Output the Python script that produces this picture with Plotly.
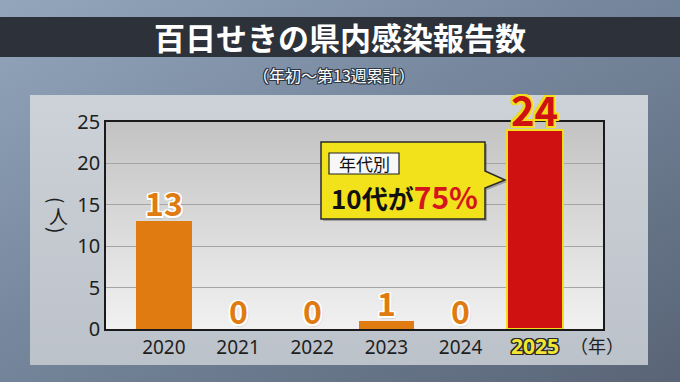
import base64
import plotly.graph_objects as go

# ---------------- data ----------------
years = ["2020", "2021", "2022", "2023", "2024", "2025"]
cases = [13, 0, 0, 1, 0, 24]
y_ticks = [0, 5, 10, 15, 20, 25]

title_text = "百日せきの県内感染報告数"
subtitle_text = "（年初～第13週累計）"
callout_head = "年代別"
callout_body = "10代が"
callout_pct = "75%"
y_unit = "人"
x_unit = "（年）"

# ---------------- styling ----------------
W_FIG, H_FIG = 680, 382
L, R, T, B = 106, 603, 122, 329          # plot area in pixels
PW, PH = R - L, B - T

ORANGE = "#e07b12"
RED = "#cf1111"
YELLOW = "#f4dd1c"
FONT_JP = "Noto Sans CJK JP"
FONT_NUM = "Noto Sans"


def pxx(x):
    return (x - L) / PW


def pxy(y):
    return (B - y) / PH


def outline(color, w=1.5, extra=""):
    offs = [(-w, -w), (w, -w), (-w, w), (w, w), (0, w), (0, -w), (w, 0), (-w, 0)]
    s = ", ".join(f"{a}px {b}px 0 {color}" for a, b in offs)
    return s + (", " + extra if extra else "")


def note(x, y, text, font, **kw):
    d = dict(x=pxx(x), y=pxy(y), xref="paper", yref="paper", text=text, showarrow=False,
             xanchor="center", yanchor="middle", font=font)
    d.update(kw)
    return d


# background gradients (decoration) as an SVG image
svg = f"""<svg xmlns='http://www.w3.org/2000/svg' width='{W_FIG}' height='{H_FIG}' viewBox='0 0 {W_FIG} {H_FIG}' preserveAspectRatio='none'>
<defs>
<linearGradient id='bg' x1='0' y1='0' x2='1' y2='1'>
<stop offset='0' stop-color='#93a6bc'/><stop offset='0.45' stop-color='#76879d'/><stop offset='1' stop-color='#596476'/></linearGradient>
<linearGradient id='pn' x1='0' y1='0' x2='0' y2='1'>
<stop offset='0' stop-color='#cdd2d8'/><stop offset='1' stop-color='#bcc2ca'/></linearGradient>
<linearGradient id='pl' x1='0' y1='0' x2='0' y2='1'>
<stop offset='0' stop-color='#c3c3c3'/><stop offset='1' stop-color='#f1f1f1'/></linearGradient>
</defs>
<rect width='{W_FIG}' height='{H_FIG}' fill='url(#bg)'/>
<rect x='30' y='95' width='618' height='270' fill='url(#pn)'/>
<rect x='{L}' y='{T}' width='{PW}' height='{PH}' fill='url(#pl)'/>
</svg>"""
svg_uri = "data:image/svg+xml;base64," + base64.b64encode(svg.encode()).decode()

n = len(years)
xi = list(range(n))
bar_colors = [RED if i == n - 1 else ORANGE for i in range(n)]
bar_line_colors = [YELLOW if i == n - 1 else ORANGE for i in range(n)]
bar_line_widths = [2 if i == n - 1 else 0 for i in range(n)]

fig = go.Figure()
fig.add_trace(go.Bar(
    x=xi, y=cases, width=0.75,
    marker=dict(color=bar_colors, line=dict(color=bar_line_colors, width=bar_line_widths)),
    hoverinfo="skip",
))

annotations = []
# value labels
for i, v in zip(xi, cases):
    if i == n - 1:
        annotations.append(dict(
            x=i, y=v, xref="x", yref="y", text=str(v), showarrow=False,
            xanchor="center", yanchor="middle", yshift=21,
            font=dict(family=FONT_JP, size=40, color=RED, weight="bold",
                      shadow=outline(YELLOW, 2)),
        ))
    else:
        annotations.append(dict(
            x=i, y=v, xref="x", yref="y", text=str(v), showarrow=False,
            xanchor="center", yanchor="middle", yshift=19,
            font=dict(family=FONT_JP, size=32, color=ORANGE, weight="bold",
                      shadow=outline("#ffffff", 1.5, "1px 2px 2px rgba(0,0,0,0.35)")),
        ))

# highlighted last x label
annotations.append(dict(
    x=xi[-1], y=0, xref="x", yref="paper", text=years[-1], showarrow=False,
    xanchor="center", yanchor="middle", yshift=-17,
    font=dict(family=FONT_NUM, size=21, color="#f3e532", weight="bold",
              shadow=outline("#2a2a2a", 1.2)),
))
# x unit
annotations.append(note(597, 345, x_unit, dict(family=FONT_JP, size=18, color="#1e1e1e")))
# y unit (vertical writing: rotated parentheses around the character)
yfont = dict(family=FONT_JP, size=19, color="#1e1e1e")
annotations += [
    note(58, 200, "(", yfont, textangle=90),
    note(58, 215, y_unit, yfont),
    note(58, 230, ")", yfont, textangle=90),
]
# title + subtitle
annotations.append(note(340, 37, title_text,
                        dict(family=FONT_JP, size=31, color="#ffffff", weight="bold")))
annotations.append(note(334, 75, subtitle_text,
                        dict(family=FONT_JP, size=16, color="#ffffff",
                             shadow=outline("#2f3644", 1))))
# callout texts
annotations.append(note(364, 163.5, callout_head,
                        dict(family=FONT_JP, size=17, color="#111111")))
annotations.append(note(329, 196,
                        f"{callout_body}<span style='color:#d4161c;font-size:30px'>{callout_pct}</span>",
                        dict(family=FONT_JP, size=26, color="#111111", weight="bold"),
                        xanchor="left"))

# shapes
cx0, cx1, cy0, cy1 = 321, 485, 142, 219
call_pts = [(cx0, cy0), (cx1, cy0), (cx1, 171), (505, 180), (cx1, 188), (cx1, cy1), (cx0, cy1)]


def path_of(pts, dx=0, dy=0):
    return "M " + " L ".join(f"{pxx(x + dx):.5f},{pxy(y + dy):.5f}" for x, y in pts) + " Z"


shapes = [
    dict(type="rect", xref="paper", yref="paper", x0=pxx(0), x1=pxx(W_FIG), y0=pxy(17), y1=pxy(57),
         fillcolor="#2d3139", line=dict(width=0), layer="below"),
    dict(type="path", xref="paper", yref="paper", path=path_of(call_pts, 2, 2),
         fillcolor="rgba(0,0,0,0.25)", line=dict(width=0)),
    dict(type="path", xref="paper", yref="paper", path=path_of(call_pts),
         fillcolor="#f2e21c", line=dict(color="#2a2a2a", width=1.5)),
    dict(type="rect", xref="paper", yref="paper", x0=pxx(329), x1=pxx(399), y0=pxy(174), y1=pxy(153),
         fillcolor="#f7f7f7", line=dict(color="#222222", width=1.2)),
]

fig.update_layout(
    width=W_FIG, height=H_FIG,
    margin=dict(l=L, r=W_FIG - R, t=T, b=H_FIG - B, pad=0, autoexpand=False),
    paper_bgcolor="#6f7f94", plot_bgcolor="rgba(0,0,0,0)",
    showlegend=False, bargap=0,
    annotations=annotations, shapes=shapes,
    images=[dict(source=svg_uri, xref="paper", yref="paper", x=pxx(0), y=pxy(0),
                 sizex=W_FIG / PW, sizey=H_FIG / PH, sizing="stretch",
                 xanchor="left", yanchor="top", layer="below")],
    font=dict(family=FONT_NUM),
)
fig.update_xaxes(
    range=[-0.78, 5.92],
    tickvals=xi, ticktext=years[:-1] + [""],
    tickfont=dict(family=FONT_NUM, size=19, color="#1e1e1e"),
    showline=True, linecolor="#1a1a1a", linewidth=1.5, mirror=True,
    ticks="", showgrid=False, zeroline=False, fixedrange=True,
)
fig.update_yaxes(
    range=[0, 25], tickvals=y_ticks,
    tickfont=dict(family=FONT_NUM, size=20, color="#1e1e1e"),
    showline=True, linecolor="#1a1a1a", linewidth=1.5, mirror=True,
    showgrid=True, gridcolor="#a5a5a5", gridwidth=1, zeroline=False,
    ticks="", fixedrange=True,
)

fig.write_html("out.html", config={"displayModeBar": False},
               post_script="document.body.style.margin='0';document.body.style.overflow='hidden';")
